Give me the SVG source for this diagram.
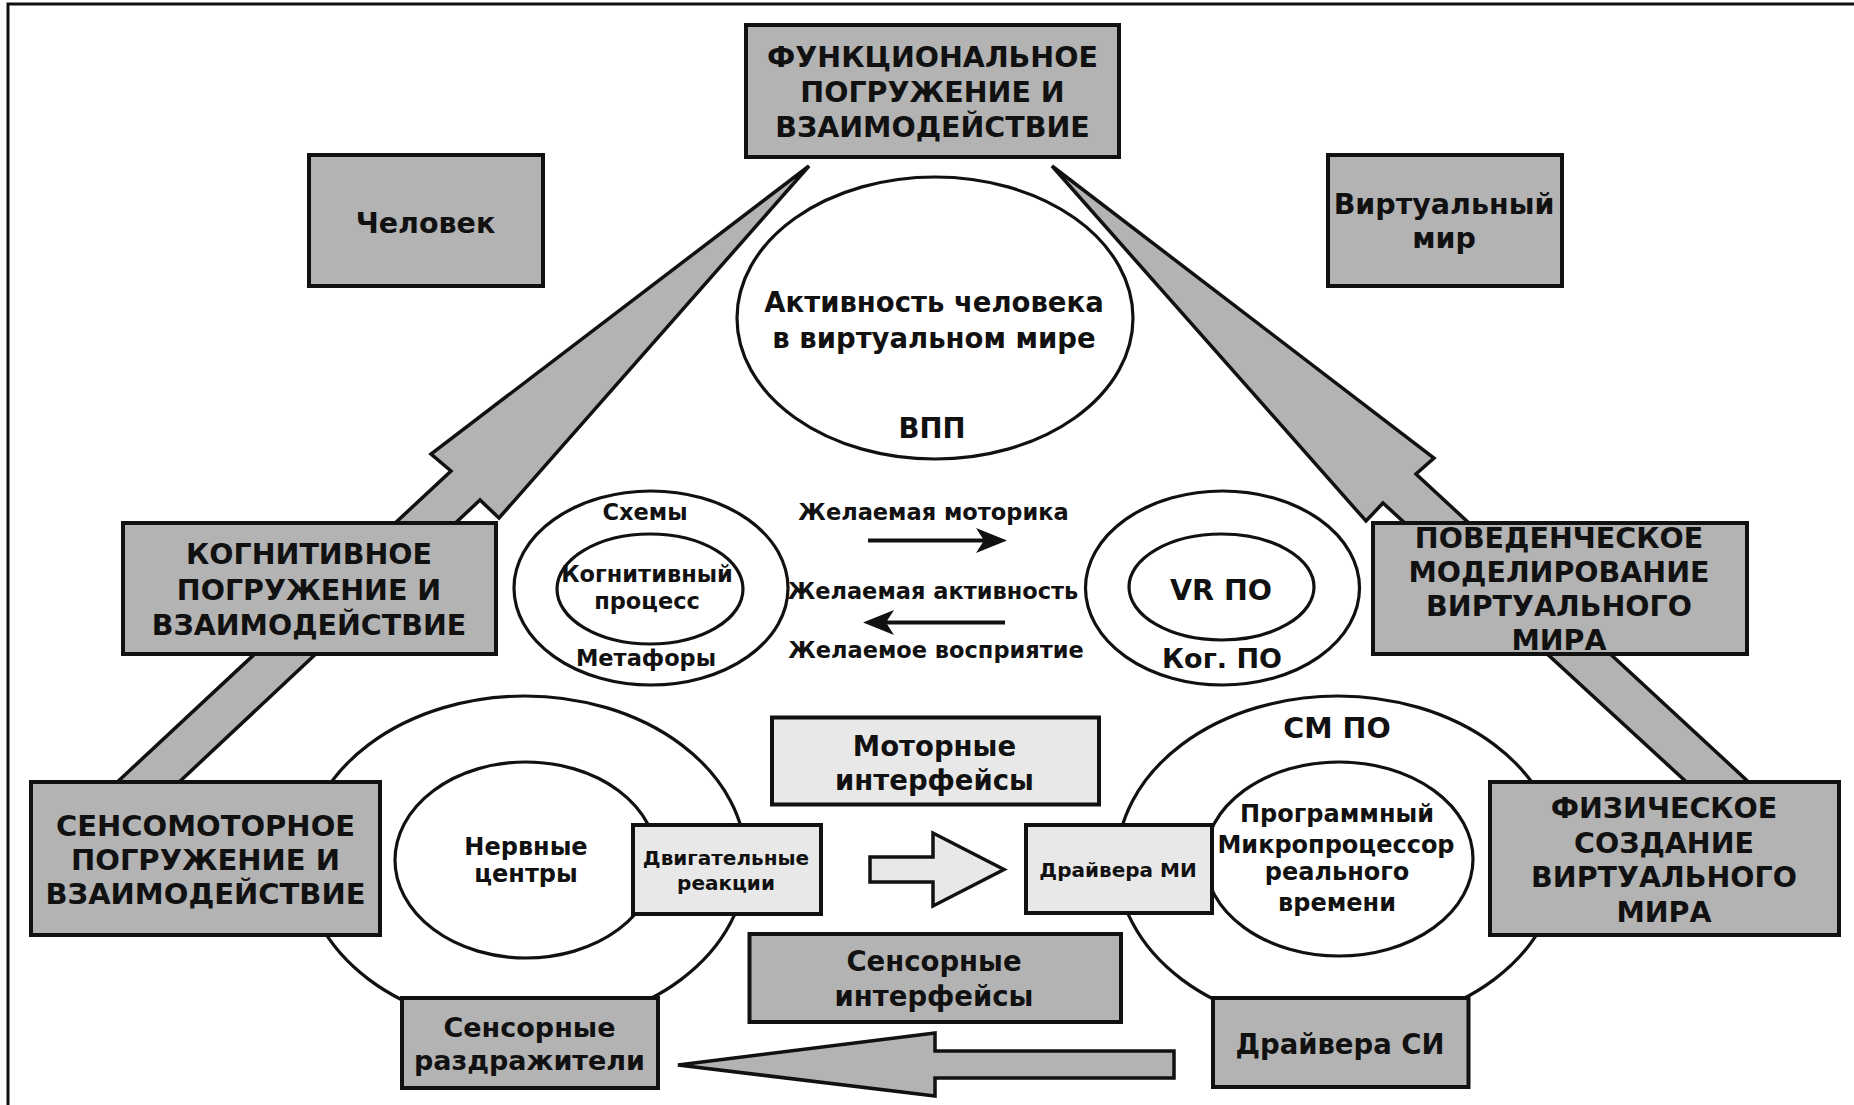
<svg xmlns="http://www.w3.org/2000/svg" width="1854" height="1105" viewBox="0 0 1854 1105">
<style>
.dk{fill:#b3b3b3;stroke:#111;stroke-width:4}
.lt{fill:#e8e8e8;stroke:#111;stroke-width:4}
.el{fill:#fff;stroke:#111;stroke-width:3.2}
.ar{fill:#b3b3b3;stroke:#111;stroke-width:3.5;stroke-linejoin:miter}
.arl{fill:#e8e8e8;stroke:#111;stroke-width:3.5}
.ln{stroke:#111;stroke-width:4;fill:none}
.hd{fill:#111}
text{font-family:"DejaVu Sans","Liberation Sans",sans-serif;font-weight:bold;fill:#111;text-anchor:middle}
.t28{font-size:28.5px}
.t27{font-size:27.5px}
.t26{font-size:27px}
.t22{font-size:22.5px}
.t23{font-size:24px}
.t20{font-size:20px}
</style>
<rect x="0" y="0" width="1854" height="1105" fill="#fff"/>
<rect x="8" y="4" width="1870" height="1120" fill="none" stroke="#111" stroke-width="3"/>
<g id="connectors">
<polygon class="ar" points="98,800 451,471 431,454 809,166 499,518 480,500 160,800"/>
<polygon class="ar" points="1768,800 1416,474 1434,458 1052,166 1366,521 1383,503 1706,800"/>
<line class="ln" x1="868" y1="540.5" x2="986" y2="540.5"/>
<polygon class="hd" points="1007,540.5 976,528 984,540.5 976,553"/>
<line class="ln" x1="1005" y1="622.5" x2="886" y2="622.5"/>
<polygon class="hd" points="863,622.5 894,610 886,622.5 894,635"/>
<polygon class="arl" points="870,857 933,857 933,833 1004,869.5 933,906 933,882 870,882"/>
<polygon class="ar" points="678,1065 935,1033 935,1051 1174,1051 1174,1078 935,1078 935,1096"/>
</g>
<g id="activity">
<ellipse class="el" cx="935" cy="318" rx="198" ry="141"/>
<text class="t27" x="934" y="312">Активность человека</text>
<text class="t27" x="934" y="348">в виртуальном мире</text>
<text class="t27" x="932" y="438">ВПП</text>
</g>
<g id="cog-left">
<ellipse class="el" cx="651" cy="588" rx="137" ry="97"/>
<ellipse class="el" cx="650" cy="589" rx="93" ry="55"/>
<text class="t22" x="645" y="520">Схемы</text>
<text class="t22" x="647" y="582">Когнитивный</text>
<text class="t22" x="647" y="609">процесс</text>
<text class="t22" x="646" y="666">Метафоры</text>
</g>
<g id="cog-right">
<ellipse class="el" cx="1222.5" cy="588" rx="137" ry="97"/>
<ellipse class="el" cx="1221.5" cy="587" rx="92.5" ry="53"/>
<text class="t28" x="1221" y="600">VR ПО</text>
<text class="t26" x="1222" y="668">Ког. ПО</text>
</g>
<g id="desired">
<text class="t22" x="933.5" y="520">Желаемая моторика</text>
<text class="t22" x="933" y="598.5">Желаемая активность</text>
<text class="t22" x="936" y="658">Желаемое восприятие</text>
</g>
<g id="sm-left">
<ellipse class="el" cx="525" cy="862" rx="221" ry="166"/>
<ellipse class="el" cx="526" cy="860" rx="131" ry="98"/>
<text class="t23" x="526" y="855">Нервные</text>
<text class="t23" x="526" y="882">центры</text>
</g>
<g id="sm-right">
<ellipse class="el" cx="1338" cy="862" rx="221" ry="166"/>
<ellipse class="el" cx="1339" cy="859" rx="134" ry="97"/>
<text class="t28" x="1337" y="738">СМ ПО</text>
<text class="t23" x="1337" y="822">Программный</text>
<text class="t23" x="1336" y="853">Микропроцессор</text>
<text class="t23" x="1337" y="880">реального</text>
<text class="t23" x="1337" y="910.5">времени</text>
</g>
<g id="func">
<rect class="dk" x="746" y="25" width="373" height="132"/>
<text class="t28" x="932.5" y="67">ФУНКЦИОНАЛЬНОЕ</text>
<text class="t28" x="932.5" y="102">ПОГРУЖЕНИЕ И</text>
<text class="t28" x="932.5" y="136.5">ВЗАИМОДЕЙСТВИЕ</text>
</g>
<g id="human">
<rect class="dk" x="309" y="155" width="234" height="131"/>
<text class="t28" x="425.5" y="233">Человек</text>
</g>
<g id="vworld">
<rect class="dk" x="1328" y="155" width="234" height="131"/>
<text class="t28" x="1444" y="213.5">Виртуальный</text>
<text class="t28" x="1444" y="248">мир</text>
</g>
<g id="cognitive">
<rect class="dk" x="123" y="523" width="373" height="131"/>
<text class="t28" x="309" y="564">КОГНИТИВНОЕ</text>
<text class="t28" x="309" y="599.5">ПОГРУЖЕНИЕ И</text>
<text class="t28" x="309" y="634.5">ВЗАИМОДЕЙСТВИЕ</text>
</g>
<g id="behavior">
<rect class="dk" x="1373" y="523" width="374" height="131"/>
<text class="t28" x="1559" y="547.5">ПОВЕДЕНЧЕСКОЕ</text>
<text class="t28" x="1559" y="582">МОДЕЛИРОВАНИЕ</text>
<text class="t28" x="1559" y="615.5">ВИРТУАЛЬНОГО</text>
<text class="t28" x="1559" y="650">МИРА</text>
</g>
<g id="sensomotor">
<rect class="dk" x="31" y="782" width="349" height="153"/>
<text class="t28" x="205.5" y="836" style="font-size:29px">СЕНСОМОТОРНОЕ</text>
<text class="t28" x="205.5" y="869.5" style="font-size:29px">ПОГРУЖЕНИЕ И</text>
<text class="t28" x="205.5" y="904" style="font-size:29px">ВЗАИМОДЕЙСТВИЕ</text>
</g>
<g id="physical">
<rect class="dk" x="1490" y="782" width="349" height="153"/>
<text class="t28" x="1664" y="818">ФИЗИЧЕСКОЕ</text>
<text class="t28" x="1664" y="853">СОЗДАНИЕ</text>
<text class="t28" x="1664" y="887">ВИРТУАЛЬНОГО</text>
<text class="t28" x="1664" y="922">МИРА</text>
</g>
<g id="motor-reactions">
<rect class="lt" x="633" y="825" width="188" height="89"/>
<text class="t20" x="726" y="864.5">Двигательные</text>
<text class="t20" x="726" y="890">реакции</text>
</g>
<g id="motor-interfaces">
<rect class="lt" x="772" y="717.5" width="327" height="87"/>
<text class="t27" x="934.5" y="756">Моторные</text>
<text class="t27" x="934.5" y="790">интерфейсы</text>
</g>
<g id="mi-drivers">
<rect class="lt" x="1026" y="825" width="186" height="88"/>
<text class="t20" x="1118" y="876.5">Драйвера МИ</text>
</g>
<g id="sensor-interfaces">
<rect class="dk" x="749.5" y="934" width="371.5" height="88"/>
<text class="t27" x="934" y="970.5">Сенсорные</text>
<text class="t27" x="934" y="1006">интерфейсы</text>
</g>
<g id="stimuli">
<rect class="dk" x="402" y="998" width="256" height="90"/>
<text class="t26" x="529.5" y="1036.5">Сенсорные</text>
<text class="t26" x="529.5" y="1070">раздражители</text>
</g>
<g id="si-drivers">
<rect class="dk" x="1213" y="998" width="255.5" height="89"/>
<text class="t27" x="1340" y="1054">Драйвера СИ</text>
</g>
</svg>
